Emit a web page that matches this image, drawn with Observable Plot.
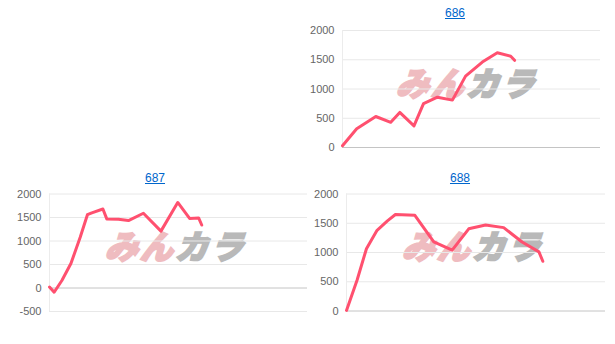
<!DOCTYPE html>
<html>
<head>
<meta charset="utf-8">
<script src="https://cdn.jsdelivr.net/npm/d3@7"></script>
<script src="https://cdn.jsdelivr.net/npm/@observablehq/plot@0.6"></script>
<style>
  html, body { margin:0; padding:0; background:#fff; }
  body { width:615px; height:344px; position:relative; overflow:hidden; font-family:"Liberation Sans", Arial, sans-serif; }
  .panel { position:absolute; width:310px; }
  .title { height:24px; line-height:26px; text-align:center; font-size:12px; }
  .title a { color:#0066cc; text-decoration:underline; }
  .wm { position:absolute; font-family:"Noto Sans CJK JP", sans-serif; font-weight:900; font-size:33px; line-height:33px; letter-spacing:2px; white-space:nowrap; transform:skewX(-18deg); }
  .wm .a { color:#efbcc0; -webkit-text-stroke:2px #efbcc0; }
  .wm .b { color:#b9b9b9; -webkit-text-stroke:2px #b9b9b9; }
  .plotwrap { position:relative; }
  svg { position:relative; background:transparent !important; }
</style>
</head>
<body>
<script>
// ---- data ----
const titles = ["686", "687", "688"];
const x686 = [0, 5.5, 12.9, 18.7, 22.2, 27.7, 31.4, 36.8, 42.6, 47.7, 54.2, 60, 65.2, 66.7];
const y686 = [30, 320, 530, 430, 600, 370, 750, 860, 810, 1220, 1460, 1620, 1560, 1490];
const x687 = [0, 1.8, 4.8, 8.3, 11.9, 14.7, 16.4, 20.7, 22.2, 26.7, 30.6, 36.4, 43.2, 49.7, 54.3, 57.8, 59];
const y687 = [20, -90, 160, 520, 1080, 1560, 1600, 1680, 1470, 1465, 1435, 1590, 1210, 1820, 1480, 1490, 1340];
const x688 = [0, 4.1, 7.7, 11.8, 15.8, 18.9, 26.4, 33.7, 40.8, 47.2, 53.7, 60.7, 67.8, 74.3, 75.8];
const y688 = [10, 530, 1065, 1380, 1540, 1650, 1635, 1180, 1040, 1405, 1470, 1425, 1180, 1010, 850];
const ticksPos = [0, 500, 1000, 1500, 2000];
const ticks687 = [-500, 0, 500, 1000, 1500, 2000];
const watermarkA = "みん";
const watermarkB = "カラ";

function panel(title, xs, ys, ticks, opts) {
  const div = document.createElement("div");
  div.className = "panel";
  div.style.left = opts.left + "px";
  div.style.top = opts.top + "px";
  const t = document.createElement("div");
  t.className = "title";
  t.innerHTML = `<a href="#">${title}</a>`;
  div.appendChild(t);
  const wrap = document.createElement("div");
  wrap.className = "plotwrap";
  const wm = document.createElement("div");
  wm.className = "wm";
  wm.style.left = opts.wmx + "px";
  wm.style.top = opts.wmy + "px";
  wm.innerHTML = `<span class="a">${watermarkA}</span><span class="b">${watermarkB}</span>`;
  wrap.appendChild(wm);
  const data = xs.map((x, i) => ({x, y: ys[i]}));
  const svg = Plot.plot({
    width: 310,
    height: opts.height,
    marginLeft: opts.ml,
    marginRight: opts.mr,
    marginTop: opts.mt,
    marginBottom: opts.mb,
    style: {color: "#666", fontSize: "11px", fontFamily: "'Liberation Sans', Arial, sans-serif", background: "transparent"},
    x: {domain: [0, 100], axis: null},
    y: {domain: [ticks[0], ticks[ticks.length - 1]], ticks: ticks, tickSize: 0, tickPadding: 8, label: null, tickFormat: d => String(d)},
    marks: [
      Plot.ruleY(ticks.filter(d => d !== 0), {stroke: "#e8e8e8"}),
      Plot.ruleX([0], {stroke: "#ececec"}),
      Plot.ruleY([0], {stroke: "#c4c4c4"}),
      Plot.line(data, {x: "x", y: "y", stroke: "#ff506f", strokeWidth: 3, strokeLinejoin: "round", strokeLinecap: "round"})
    ]
  });
  wrap.appendChild(svg);
  div.appendChild(wrap);
  document.body.appendChild(div);
}

panel(titles[0], x686, y686, ticksPos, {left: 300, top: 0, height: 136, ml: 42, mr: 10, mt: 6, mb: 13, wmx: 100, wmy: 42});
panel(titles[1], x687, y687, ticks687, {left: 0, top: 165, height: 150, ml: 49, mr: 3, mt: 4.5, mb: 28, wmx: 109, wmy: 40});
panel(titles[2], x688, y688, ticksPos, {left: 305, top: 165, height: 150, ml: 41, mr: 10, mt: 4.5, mb: 28.5, wmx: 101, wmy: 40});
</script>
</body>
</html>
